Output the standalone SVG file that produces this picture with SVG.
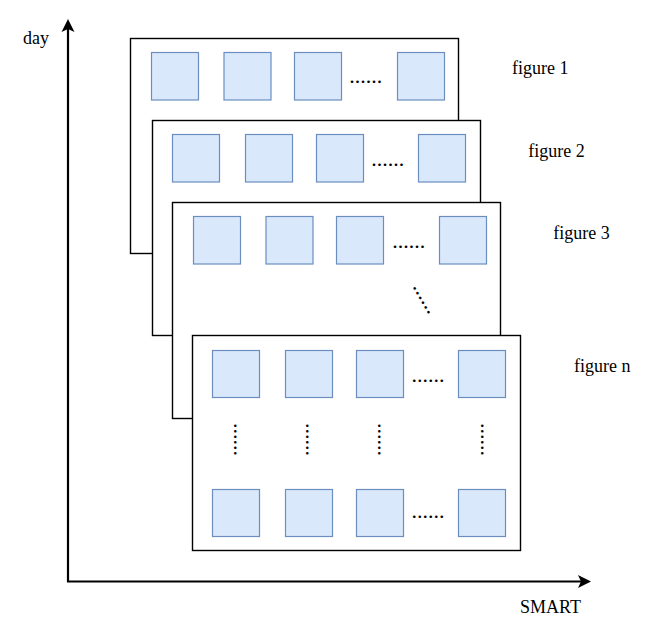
<svg xmlns="http://www.w3.org/2000/svg" width="653" height="638" viewBox="0 0 653 638">
<style>
.frame{fill:#ffffff;stroke:#000000;stroke-width:1.4}
.sq{fill:#dae8fc;stroke:#6c8ebf;stroke-width:1.2}
.lbl{font-family:"Liberation Serif","Times New Roman",serif;font-size:18px;fill:#000}
.dots{font-family:"Liberation Serif","Times New Roman",serif;font-size:22px;fill:#000}
.axis{stroke:#000;stroke-width:2.2;fill:none}
</style>
<g id="connectors">
<path class="axis" d="M68 582 L68 28"/>
<path d="M68 19 L74.5 32 L68 29 L61.5 32 Z" fill="#000"/>
<path class="axis" d="M67 581.5 L582 581.5"/>
<path d="M591 581.5 L578 588 L581 581.5 L578 575 Z" fill="#000"/>
</g>
<text class="lbl" x="23" y="43.5">day</text>
<text class="lbl" x="520" y="612.5">SMART</text>
<g id="figure1">
<rect class="frame" x="130.5" y="38.5" width="328" height="215"/>
<rect class="sq" x="151.5" y="52.5" width="47" height="47.5"/>
<rect class="sq" x="224" y="52.5" width="47" height="47.5"/>
<rect class="sq" x="294.5" y="52.5" width="47" height="47.5"/>
<rect class="sq" x="397.5" y="52.5" width="47" height="47.5"/>
<text class="dots" x="349.3" y="83">......</text>
<text class="lbl" x="512" y="73.5">figure 1</text>
</g>
<g id="figure2">
<rect class="frame" x="152.5" y="120.5" width="328" height="215"/>
<rect class="sq" x="172.5" y="134.5" width="47" height="47.5"/>
<rect class="sq" x="245.5" y="134.5" width="47" height="47.5"/>
<rect class="sq" x="316.5" y="134.5" width="47" height="47.5"/>
<rect class="sq" x="418.5" y="134.5" width="47" height="47.5"/>
<text class="dots" x="371.3" y="166">......</text>
<text class="lbl" x="528.3" y="156.5">figure 2</text>
</g>
<g id="figure3">
<rect class="frame" x="172.5" y="202.5" width="328" height="216"/>
<rect class="sq" x="193.5" y="216.5" width="47" height="47.5"/>
<rect class="sq" x="266" y="216.5" width="47" height="47.5"/>
<rect class="sq" x="336.5" y="216.5" width="47" height="47.5"/>
<rect class="sq" x="439.5" y="216.5" width="47" height="47.5"/>
<text class="dots" x="392.3" y="248.4">......</text>
<text class="dots" transform="translate(412.6,286.4) rotate(60.5)">......</text>
<text class="lbl" x="553.3" y="239">figure 3</text>
</g>
<g id="figuren">
<rect class="frame" x="192.5" y="335.5" width="328" height="215"/>
<rect class="sq" x="212.5" y="350.5" width="47" height="47"/>
<rect class="sq" x="285.5" y="350.5" width="47" height="47"/>
<rect class="sq" x="356.5" y="350.5" width="47" height="47"/>
<rect class="sq" x="458.5" y="350.5" width="47" height="47"/>
<text class="dots" x="411.6" y="382">......</text>
<text class="dots" transform="translate(234.2,423) rotate(90)">......</text>
<text class="dots" transform="translate(305.9,423) rotate(90)">......</text>
<text class="dots" transform="translate(377.9,423) rotate(90)">......</text>
<text class="dots" transform="translate(480.6,423) rotate(90)">......</text>
<rect class="sq" x="212.5" y="489.5" width="47" height="47"/>
<rect class="sq" x="285.5" y="489.5" width="47" height="47"/>
<rect class="sq" x="356.5" y="489.5" width="47" height="47"/>
<rect class="sq" x="458.5" y="489.5" width="47" height="47"/>
<text class="dots" x="411.6" y="517.8">......</text>
<text class="lbl" x="574" y="371.7">figure n</text>
</g>
</svg>
